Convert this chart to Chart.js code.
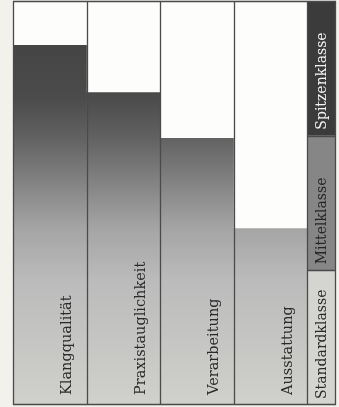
<!DOCTYPE html>
<html>
<head>
<meta charset="utf-8">
<script src="https://cdn.jsdelivr.net/npm/chart.js@4"></script>
<style>
  html, body { margin: 0; padding: 0; background: #f2f1ec; }
  #box { width: 339px; height: 407px; position: relative; }
</style>
</head>
<body>
<div id="box"><canvas id="testChart"></canvas></div>
<script>
const ctx = document.getElementById("testChart");

const categories = ["Klangqualität", "Praxistauglichkeit", "Verarbeitung", "Ausstattung"];
const scores = [2.67, 2.32, 1.98, 1.31];
const classes = ["Standardklasse", "Mittelklasse", "Spitzenklasse"];
const classLimits = [0, 1, 2, 3];

const classFill = ["#d4d4d0", "#868686", "#3b3b3b"];
const classText = ["#2a2a2a", "#252525", "#f4f4f4"];

let gradCache = null;
function barGradient(chart) {
  const area = chart.chartArea;
  if (!area) return "#888";
  const key = area.top + "-" + area.bottom;
  if (gradCache && gradCache.key === key) return gradCache.g;
  const g = chart.ctx.createLinearGradient(0, area.top, 0, area.bottom);
  g.addColorStop(0, "#404040");
  g.addColorStop(0.24, "#4b4b4b");
  g.addColorStop(0.34, "#626262");
  g.addColorStop(0.56, "#a4a4a4");
  g.addColorStop(0.69, "#bbbbbb");
  g.addColorStop(1, "#d0d0cc");
  gradCache = { key: key, g: g };
  return g;
}

// white columns behind the bars, borders + labels on top
const columns = {
  id: 'columns',
  beforeDatasetsDraw(chart) {
    const { ctx, chartArea: { top, bottom, left, right } } = chart;
    ctx.save();
    ctx.fillStyle = '#fdfdfb';
    ctx.fillRect(left, top, right - left, bottom - top);
    ctx.restore();
  },
  afterDatasetsDraw(chart) {
    const { ctx, chartArea: { top, bottom, left, right }, scales: { x, y } } = chart;
    const meta = chart.getDatasetMeta(0);
    const legL = right;
    const legR = right + 29;

    // legend column
    for (let i = 0; i < classes.length; i++) {
      const y0 = y.getPixelForValue(classLimits[i]);
      const y1 = y.getPixelForValue(classLimits[i + 1]);
      ctx.fillStyle = classFill[i];
      ctx.fillRect(legL, y1, legR - legL, y0 - y1);
    }

    ctx.save();
    ctx.strokeStyle = '#4a4a4a';
    ctx.lineWidth = 1.3;
    ctx.beginPath();
    ctx.moveTo(left, top + 0.5);
    ctx.lineTo(legR, top + 0.5);
    ctx.moveTo(left, bottom - 0.5);
    ctx.lineTo(legR, bottom - 0.5);
    for (let i = 0; i < meta.data.length; i++) {
      const b = meta.data[i];
      const xl = Math.round(b.x - b.width / 2) + 0.5;
      ctx.moveTo(xl, top);
      ctx.lineTo(xl, bottom);
    }
    ctx.moveTo(Math.round(legL) + 0.5, top);
    ctx.lineTo(Math.round(legL) + 0.5, bottom);
    ctx.moveTo(legR - 0.5, top);
    ctx.lineTo(legR - 0.5, bottom);
    for (let i = 1; i < classLimits.length - 1; i++) {
      const yy = Math.round(y.getPixelForValue(classLimits[i])) + 0.5;
      ctx.moveTo(legL, yy);
      ctx.lineTo(legR, yy);
    }
    ctx.stroke();

    ctx.font = '14.5px "DejaVu Serif"';
    ctx.textAlign = 'left';
    ctx.textBaseline = 'middle';
    ctx.fillStyle = '#2a2a2a';
    for (let i = 0; i < meta.data.length; i++) {
      const b = meta.data[i];
      ctx.save();
      ctx.translate(b.x + b.width / 2 - 19, bottom - 10);
      ctx.rotate(-Math.PI / 2);
      ctx.fillText(categories[i], 0, 0);
      ctx.restore();
    }

    ctx.font = '14px "DejaVu Serif"';
    for (let i = 0; i < classes.length; i++) {
      const y0 = y.getPixelForValue(classLimits[i]);
      ctx.save();
      ctx.fillStyle = classText[i];
      ctx.translate((legL + legR) / 2 + 1, y0 - 6);
      ctx.rotate(-Math.PI / 2);
      ctx.fillText(classes[i], 0, 0);
      ctx.restore();
    }
    ctx.restore();
  }
};

const myChart = new Chart(ctx, {
  type: "bar",
  data: {
    labels: categories,
    datasets: [
      {
        label: "Bewertung",
        data: scores,
        backgroundColor: (c) => barGradient(c.chart),
        borderWidth: 0,
        barPercentage: 1,
        categoryPercentage: 1,
      },
    ],
  },
  plugins: [columns],
  options: {
    responsive: true,
    maintainAspectRatio: false,
    animation: false,
    layout: {
      padding: { left: 13, right: 32, top: 1, bottom: 2 }
    },
    plugins: {
      legend: { display: false },
      tooltip: { enabled: false },
    },
    scales: {
      x: { display: false },
      y: { display: false, min: 0, max: 3 },
    },
  },
});
</script>
</body>
</html>
